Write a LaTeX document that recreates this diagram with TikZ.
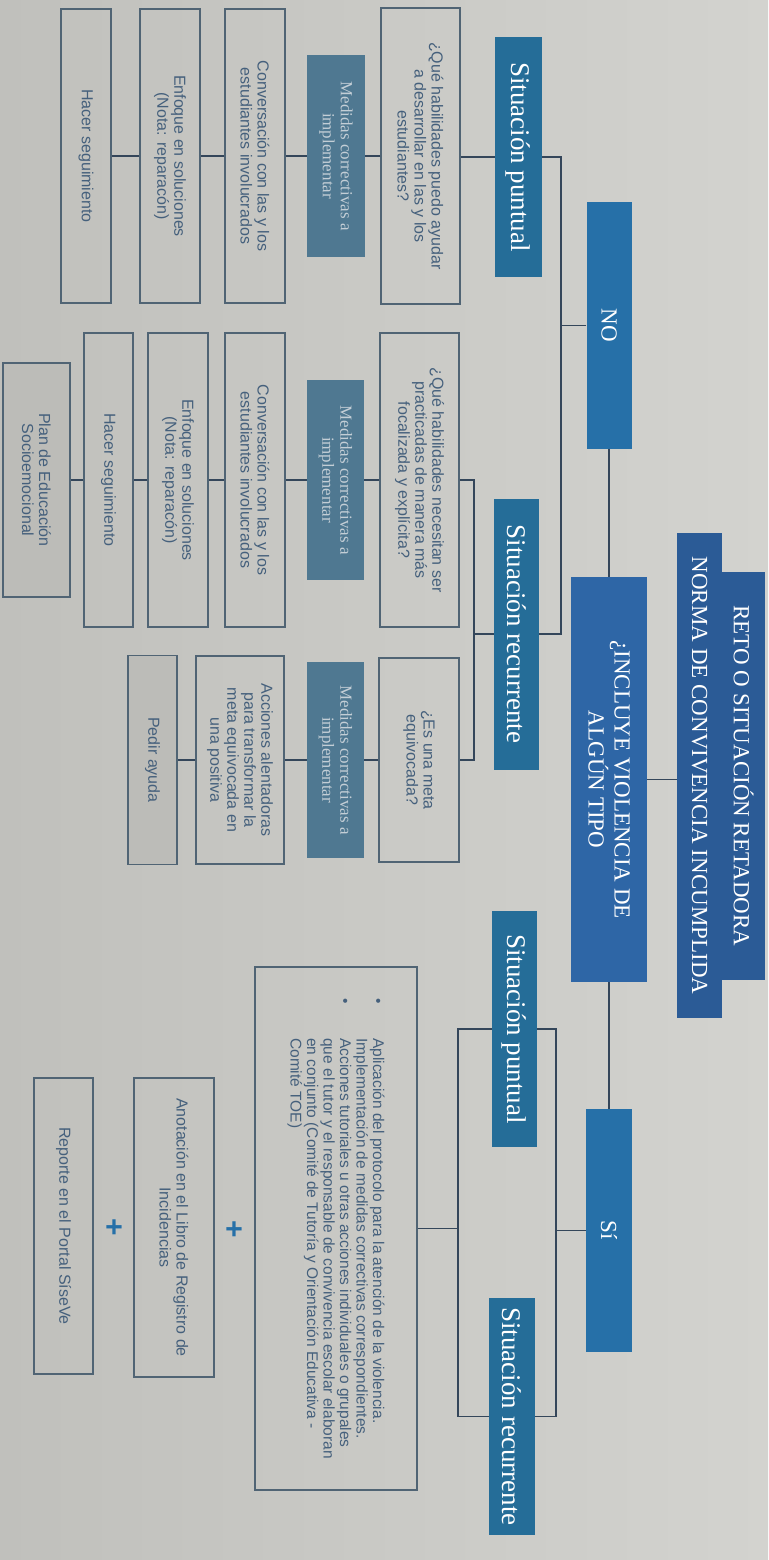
\documentclass[tikz,border=0pt]{standalone}
\usepackage{fontspec}
\setmainfont{Liberation Sans}
\newfontfamily\serifa{Liberation Serif}
\usepackage{tikz}

\definecolor{papel}{HTML}{C9C9C5}
\definecolor{papelclaro}{HTML}{D3D3CF}
\definecolor{papeloscuro}{HTML}{C0C0BC}
\definecolor{azultit}{HTML}{2B5B96}
\definecolor{azulpreg}{HTML}{2E66A6}
\definecolor{azulsn}{HTML}{2670A8}
\definecolor{azulsit}{HTML}{256D98}
\definecolor{pizarra}{HTML}{4F7891}
\definecolor{borde}{HTML}{506474}
\definecolor{linea}{HTML}{34465A}
\definecolor{textocaja}{HTML}{45607C}
\definecolor{textomed}{HTML}{C3CED6}
\definecolor{gristono}{HTML}{BCBCB8}

\begin{document}
\begin{tikzpicture}[x=1pt, y=1pt, rotate=-90, transform shape,
    caja/.style={draw=borde, line width=1.2pt, text=textocaja, align=center, inner sep=0pt,
        font=\fontsize{16}{17}\selectfont},
    titulo/.style={fill=azultit, text=white, inner sep=0pt, font=\serifa\fontsize{23}{26}\selectfont},
    rama/.style={fill=azulsn, text=white, inner sep=0pt, font=\serifa\fontsize{23}{26}\selectfont},
    situacion/.style={fill=azulsit, text=white, inner sep=0pt, font=\serifa\fontsize{27}{30}\selectfont},
    medidas/.style={fill=pizarra, text=textomed, align=center, inner sep=0pt,
        font=\serifa\fontsize{17}{18}\selectfont},
    conector/.style={draw=linea, line width=1.3pt},
    mas/.style={text=azulsn, inner sep=0pt, font=\bfseries\fontsize{30}{30}\selectfont}]
            \shade[left color=papeloscuro, right color=papelclaro] (0,0) rectangle (1560,768);
            \useasboundingbox (0,0) rectangle (1560,768);

            \node[titulo, minimum width=408, minimum height=43] (titulo1) at (776,743.5) {RETO O SITUACIÓN RETADORA};
            \node[titulo, minimum width=485, minimum height=45] (titulo2) at (775.5,699.5) {NORMA DE CONVIVENCIA INCUMPLIDA};
            \node[titulo, fill=azulpreg, align=center, minimum width=405, minimum height=76] (pregunta) at (779.5,609) {¿INCLUYE VIOLENCIA DE\\ALGÚN TIPO};

            \node[rama, minimum width=247, minimum height=45] (no) at (325.5,609) {NO};
            \node[rama, minimum width=243, minimum height=46] (si) at (1230.5,609) {Sí};

            \node[situacion, minimum width=240, minimum height=47] (spNO) at (157,518.5) {Situación puntual};
            \node[situacion, minimum width=271, minimum height=45] (srNO) at (634,516.5) {Situación recurrente};
            \node[situacion, minimum width=236, minimum height=45] (spSI) at (1029,514.5) {Situación puntual};
            \node[situacion, minimum width=237, minimum height=46] (srSI) at (1416.5,512) {Situación recurrente};

            \node[caja, minimum width=296, minimum height=79] (q1) at (156,420.5) {¿Qué habilidades puedo ayudar\\a desarrollar en las y los\\estudiantes?};
            \node[medidas, minimum width=201, minimum height=58] (m1) at (156,336) {Medidas correctivas a\\implementar};
            \node[caja, minimum width=294, minimum height=60] (c1) at (156,255) {Conversación con las y los\\estudiantes involucrados};
            \node[caja, minimum width=294, minimum height=60] (e1) at (156,170) {Enfoque en soluciones\\(Nota: reparacón)};
            \node[caja, minimum width=294, minimum height=50] (h1) at (156,86) {Hacer seguimiento};

            \node[caja, minimum width=294, minimum height=79] (q2) at (480,419.5) {¿Qué habilidades necesitan ser\\practicadas de manera más\\focalizada y explícita?};
            \node[medidas, minimum width=200, minimum height=57] (m2) at (480,335.5) {Medidas correctivas a\\implementar};
            \node[caja, minimum width=294, minimum height=60] (c2) at (480,255) {Conversación con las y los\\estudiantes involucrados};
            \node[caja, minimum width=294, minimum height=60] (e2) at (480,178) {Enfoque en soluciones\\(Nota: reparacón)};
            \node[caja, minimum width=294, minimum height=49] (h2) at (480,108.5) {Hacer seguimiento};
            \node[caja, fill=gristono, minimum width=234, minimum height=67] (p2) at (480,36.5) {Plan de Educación\\Socioemocional};

            \node[caja, minimum width=204, minimum height=80] (q3) at (760,419) {¿Es una meta\\equivocada?};
            \node[medidas, minimum width=196, minimum height=57] (m3) at (760,335.5) {Medidas correctivas a\\implementar};
            \node[caja, minimum width=208, minimum height=88] (a3) at (760,240) {Acciones alentadoras\\para transformar la\\meta equivocada en\\una positiva};
            \node[caja, fill=gristono, minimum width=209, minimum height=49] (d3) at (760,152.5) {Pedir ayuda};

            \node[caja, align=left, minimum width=523, minimum height=162, font=\fontsize{15.5}{16.5}\selectfont] (acciones) at (1228.5,336) {%
                \makebox[40pt][l]{\textbullet}Aplicación del protocolo para la atención de la violencia.\\
                \hspace*{40pt}Implementación de medidas correctivas correspondientes.\\
                \makebox[40pt][l]{\textbullet}Acciones tutoriales u otras acciones individuales o grupales\\
                \hspace*{40pt}que el tutor y el responsable de convivencia escolar elaboran\\
                \hspace*{40pt}en conjunto (Comité de Tutoría y Orientación Educativa -\\
                \hspace*{40pt}Comité TOE)};
            \node[mas] (mas1) at (1229,233) {+};
            \node[caja, minimum width=299, minimum height=80] (anotacion) at (1227.5,174) {Anotación en el Libro de Registro de\\Incidencias};
            \node[mas] (mas2) at (1227,113) {+};
            \node[caja, minimum width=296, minimum height=59] (reporte) at (1226,63.5) {Reporte en el Portal SíseVe};

            \coordinate (barraNO) at (0,561);
            \coordinate (barraSI) at (0,556);
            \coordinate (barraNR) at (0,474);
            \coordinate (barraSP) at (0,458);

            \draw[conector] (pregunta.north) -- (pregunta.north |- titulo2.south);
            \draw[conector] (pregunta.west) -- (no.east);
            \draw[conector] (pregunta.east) -- (si.west);

            \draw[conector] (no.south) -- (no.south |- barraNO);
            \draw[conector] (spNO.north) |- (srNO.north |- barraNO) -- (srNO.north);
            \draw[conector] (si.south) -- (si.south |- barraSI);
            \draw[conector] (spSI.north) |- (srSI.north |- barraSI) -- (srSI.north);

            \draw[conector] (spNO.south) -- (spNO.south |- q1.north);
            \draw[conector] (q1.south) -- (m1.north);
            \draw[conector] (m1.south) -- (c1.north);
            \draw[conector] (c1.south) -- (e1.north);
            \draw[conector] (e1.south) -- (h1.north);

            \draw[conector] (srNO.south) -- (srNO.south |- barraNR);
            \draw[conector] (q2.north) |- (q3.north |- barraNR) -- (q3.north);
            \draw[conector] (q2.south) -- (m2.north);
            \draw[conector] (m2.south) -- (c2.north);
            \draw[conector] (c2.south) -- (e2.north);
            \draw[conector] (e2.south) -- (h2.north);
            \draw[conector] (h2.south) -- (p2.north);
            \draw[conector] (q3.south) -- (m3.north);
            \draw[conector] (m3.south) -- (a3.north);
            \draw[conector] (a3.south) -- (d3.north);

            \draw[conector] (spSI.south) |- (srSI.south |- barraSP) -- (srSI.south);
            \draw[conector] (acciones.north) -- (acciones.north |- barraSP);
        \end{tikzpicture}
\end{document}
